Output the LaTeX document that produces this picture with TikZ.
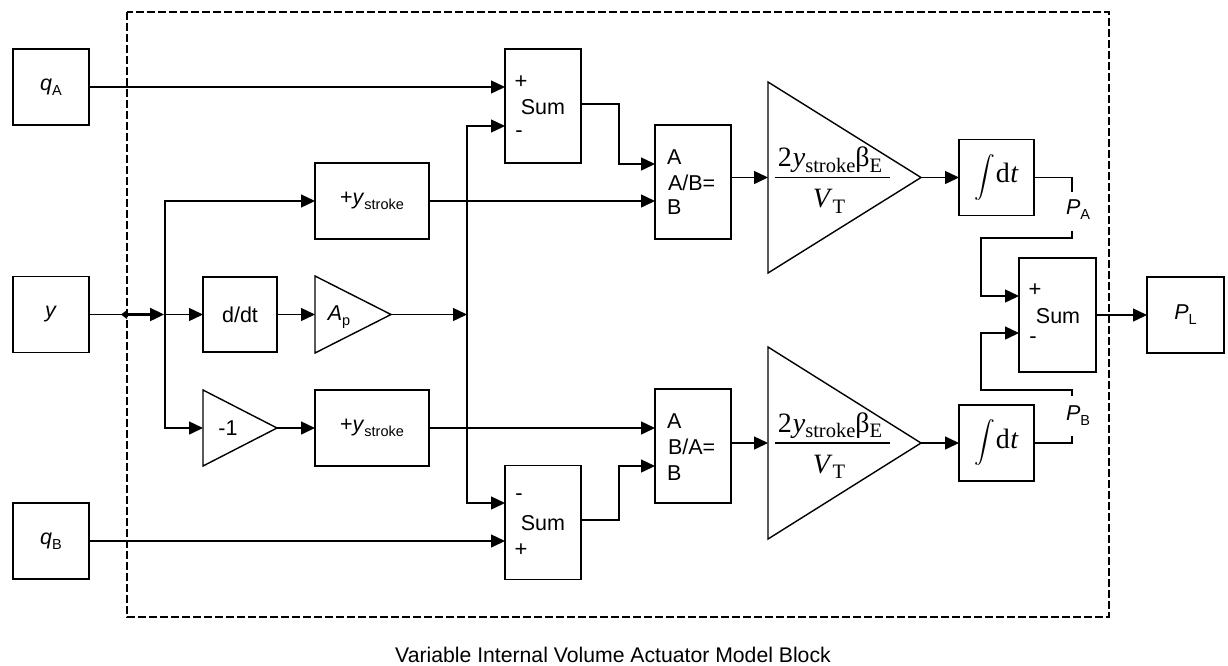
\documentclass[tikz,border=0pt]{standalone}
\usepackage{amsmath}
\usepackage{fontspec}
\setmainfont{Liberation Sans}
\newfontfamily\tms{Liberation Serif}
\usetikzlibrary{arrows.meta}
\newcommand\fsz[1]{\fontsize{#1}{#1}\selectfont}
\newcommand\lsub[1]{\raisebox{-0.45ex}{\fsz{14.5}#1}}
\newcommand\tsub[1]{\raisebox{-0.45ex}{\fsz{20.5}#1}}
\begin{document}
\begin{tikzpicture}[x=1pt,y=-1pt,
  every node/.style={inner sep=0pt,outer sep=0pt,font=\fsz{21.5}},
  wire/.style={line width=1.4pt},
  blk/.style={draw,wire,minimum width=76pt,minimum height=76pt},
  tall/.style={blk,minimum height=114pt},
  wide/.style={blk,minimum width=114pt},
  sig/.style={wire,-{Triangle[length=14pt,width=13pt]}},
  frame/.style={line width=1.2pt,dash pattern=on 8pt off 3pt},
  pm/.style={font=\fsz{22}},
  lft/.style={anchor=west},
  frac/.style={font=\tms\fsz{28}}]
\useasboundingbox (0,0) rectangle (1228,665);

% frame
\draw[frame] (127,12) rectangle (1109,617);

% boxes
\node[blk] (qA) at (51,87) {\textit{q}\lsub{A}};
\node[blk] (y) at (51,314.5) {\textit{y}};
\node[blk] (qB) at (51,541) {\textit{q}\lsub{B}};
\node[blk,minimum width=74pt,minimum height=75pt] (ddt) at (240,314.5) {d/dt};
\node[wide] (ys1) at (372,201) {+\textit{y}\lsub{stroke}};
\node[wide] (ys2) at (372,428) {+\textit{y}\lsub{stroke}};
\node[tall] (s1) at (543,106) {};
\node[tall] (ab1) at (693,182) {};
\node[tall] (s2) at (543,522.5) {};
\node[tall] (ab2) at (693,446) {};
\node[blk,minimum width=75pt] (i1) at (996.5,177.5) {\fsz{20}$\displaystyle\int$\kern1pt{\tms\fsz{28}d\kern0.5pt\textit{t}}};
\node[blk,minimum width=75pt] (i2) at (996.5,443) {\fsz{20}$\displaystyle\int$\kern1pt{\tms\fsz{28}d\kern0.5pt\textit{t}}};
\node[tall,minimum width=77pt] (sR) at (1057.5,315) {};
\node[blk,minimum width=77pt] (PL) at (1185.5,315) {\textit{P}\lsub{L}};

% sum / divide labels
\node[pm] (s1p) at (521,82) {+};
\node (s1t) at (543,107) {Sum};
\node[pm] (s1m) at (519,134) {-};
\node[pm] (s2m) at (519,497) {-};
\node (s2t) at (543,523) {Sum};
\node[pm] (s2p) at (521,550) {+};
\node[pm] (sRp) at (1035,290) {+};
\node (sRt) at (1058,316) {Sum};
\node[pm] (sRm) at (1033,340) {-};
\node[lft] (ab1a) at (667,157) {A};
\node[lft] (ab1c) at (668,183) {A/B=};
\node[lft] (ab1b) at (667,207) {B};
\node[lft] (ab2a) at (667,421) {A};
\node[lft] (ab2c) at (668,447) {B/A=};
\node[lft] (ab2b) at (667,473) {B};

% triangles
\draw[wire] (315,276) -- (391,314.5) -- (315,353) -- cycle;
\node (Ap) at (339,317) {\textit{A}\lsub{p}};
\coordinate (apin) at (315,314.5);
\coordinate (apout) at (391,314.5);
\draw[wire] (203,390) -- (277,428) -- (203,466) -- cycle;
\node (neg) at (228,428) {-1};
\coordinate (negin) at (203,428);
\coordinate (negout) at (277,428);
\draw[wire] (768,82) -- (921,177.5) -- (768,273) -- cycle;
\coordinate (g1in) at (768,177.5);
\coordinate (g1out) at (921,177.5);
\draw[wire] (768,347) -- (921,443) -- (768,539) -- cycle;
\coordinate (g2in) at (768,443);
\coordinate (g2out) at (921,443);

% gain fractions
\node[frac,anchor=base] (n1) at (830,166.5) {2\kern1pt\textit{y}\tsub{stroke}β\tsub{E}};
\node[frac,anchor=base] (d1) at (829,207.5) {\textit{V}\tsub{T}};
\coordinate (f1a) at (775,177.5);
\coordinate (f1b) at (890,177.5);
\draw[line width=1.3pt] (f1a) -- (f1b);
\node[frac,anchor=base] (n2) at (830,432) {2\kern1pt\textit{y}\tsub{stroke}β\tsub{E}};
\node[frac,anchor=base] (d2) at (829,473) {\textit{V}\tsub{T}};
\coordinate (f2a) at (775,443);
\coordinate (f2b) at (890,443);
\draw[line width=1.3pt] (f2a) -- (f2b);

% ports
\coordinate (s1in1) at (505,87);
\coordinate (s1in2) at (505,126);
\coordinate (s1out) at (581,104);
\coordinate (s2in1) at (505,503);
\coordinate (s2in2) at (505,541);
\coordinate (s2out) at (581,520);
\coordinate (ab1in1) at (655,164);
\coordinate (ab1in2) at (655,201);
\coordinate (ab1out) at (731,177.5);
\coordinate (ab2in1) at (655,428);
\coordinate (ab2in2) at (655,466);
\coordinate (ab2out) at (731,443);
\coordinate (sRin1) at (1019,296);
\coordinate (sRin2) at (1019,333);
\coordinate (sRout) at (1096,315);
\coordinate (port) at (127,314.5);
\coordinate (jy) at (165,314.5);
\coordinate (jv) at (467,314.5);
\coordinate (k1) at (619,104);
\coordinate (k2) at (619,520);
\coordinate (pa1) at (1072,192);
\coordinate (pa2) at (1072,231);
\coordinate (pa3) at (981,238);
\coordinate (pb1) at (1072,436);
\coordinate (pb2) at (1072,396);
\coordinate (pb3) at (981,390);

% connectors
\draw[sig] (qA.east) -- (s1in1);
\draw[sig] (qB.east) -- (s2in2);
\draw[wire] (y.east) -- (port);
\fill ([xshift=-6pt]port) -- ([yshift=4.5pt]port) -- ([yshift=-4.5pt]port) -- cycle;
\draw[sig,line width=2.4pt] (port) -- ([xshift=-1pt]jy);
\draw[sig] (jy) -- (ddt.west);
\draw[sig] (jy) |- (ys1.west);
\draw[sig] (jy) |- (negin);
\draw[sig] (ddt.east) -- (apin);
\draw[sig] (apout) -- (jv);
\draw[sig] (jv) |- (s1in2);
\draw[sig] (jv) |- (s2in1);
\draw[sig] (negout) -- (ys2.west);
\draw[sig] (ys1.east) -- (ab1in2);
\draw[sig] (ys2.east) -- (ab2in1);
\draw[sig] (s1out) -- (k1) |- (ab1in1);
\draw[sig] (s2out) -- (k2) |- (ab2in2);
\draw[sig] (ab1out) -- (g1in);
\draw[sig] (ab2out) -- (g2in);
\draw[sig] (g1out) -- (i1.west);
\draw[sig] (g2out) -- (i2.west);
\draw[wire] (i1.east) -| (pa1);
\node (PA) at (1078,210) {\textit{P}\lsub{A}};
\draw[sig] (pa2) |- (pa3) |- (sRin1);
\draw[wire] (i2.east) -| (pb1);
\node (PB) at (1078,416) {\textit{P}\lsub{B}};
\draw[sig] (pb2) |- (pb3) |- (sRin2);
\draw[sig] (sRout) -- (PL.west);

% caption
\node[anchor=base,font=\fsz{21.2}] (cap) at (613,662) {Variable Internal Volume Actuator Model Block};
\end{tikzpicture}
\end{document}
